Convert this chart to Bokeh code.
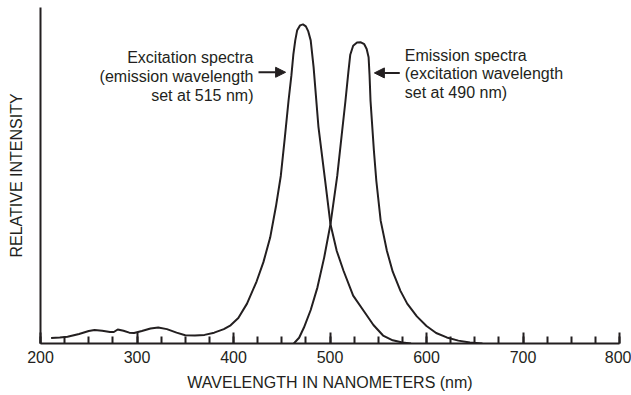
from bokeh.plotting import figure
from bokeh.models import Range1d, FixedTicker, Label, Arrow, NormalHead
from bokeh.embed import file_html
from bokeh.resources import INLINE

# ---- data ----
excitation_wl = [211, 220, 228, 240, 250, 256, 264, 272, 276, 280, 286, 292, 297, 305, 314,
                 322, 331, 341, 350, 360, 370, 380, 390, 397, 405, 414, 424, 431, 438, 444,
                 449, 453, 457, 460, 462, 464, 466, 469, 472, 475, 477.5, 480, 483, 488, 495,
                 500.5, 507, 514, 524, 535, 545, 555, 565, 575, 584]
excitation_int = [1.7, 1.9, 2.1, 3.0, 3.9, 4.2, 4.0, 3.6, 3.6, 4.4, 4.0, 3.4, 3.3, 3.9, 4.7,
                  5.0, 4.5, 3.4, 2.6, 2.5, 2.7, 3.4, 4.5, 5.7, 8.0, 12.5, 19.5, 25.5, 33.2, 43,
                  52.5, 64, 76, 84, 90.5, 95, 98.2, 99.7, 100, 99.4, 97.8, 95, 86.6, 68, 51,
                  37.4, 29, 22.8, 15, 10.2, 5.8, 2.5, 1.0, 0.3, 0]

emission_wl = [462.5, 468, 473, 480, 487, 494, 500.5, 507.5, 512, 516, 519, 521, 524, 528,
               532, 535.5, 538, 540, 541, 542, 545.5, 548, 552.5, 559, 565, 573, 580, 590,
               600, 610, 621, 633, 645, 658]
emission_int = [0, 1.8, 5.0, 10.5, 17.6, 27, 37.4, 52.5, 65, 76, 85, 90.5, 93.3, 94.3,
                94.4, 93.8, 92.3, 89.7, 84, 76, 60.4, 51, 38.5, 29, 22.5, 16.5, 12.5, 8.5,
                5.5, 3.3, 1.9, 0.9, 0.3, 0]

major_ticks = [200, 300, 400, 500, 600, 700, 800]
minor_ticks = list(range(200, 801, 25))

excitation_lines = ["Excitation spectra", "(emission wavelength", "set at 515 nm)"]
emission_lines = ["Emission spectra", "(excitation wavelength", "set at 490 nm)"]

INK = "#231f20"
FONT = "Liberation Sans"

p = figure(width=631, height=395, output_backend="svg", toolbar_location=None,
           x_range=Range1d(200, 800), y_range=Range1d(0, 105.3),
           min_border_left=40, min_border_right=12, min_border_top=7, min_border_bottom=52)
p.outline_line_color = None
p.grid.visible = False
p.background_fill_color = "white"
p.border_fill_color = "white"

p.line(excitation_wl, excitation_int, line_color=INK, line_width=2)
p.line(emission_wl, emission_int, line_color=INK, line_width=2)

# x axis
xa = p.xaxis[0]
xa.ticker = FixedTicker(ticks=major_ticks, minor_ticks=minor_ticks)
xa.axis_line_color = INK
xa.axis_line_width = 2
xa.major_tick_in = 11
xa.major_tick_out = 0
xa.minor_tick_in = 7
xa.minor_tick_out = 0
xa.major_tick_line_color = INK
xa.major_tick_line_width = 2
xa.minor_tick_line_color = INK
xa.minor_tick_line_width = 2
xa.major_label_text_font = FONT
xa.major_label_text_font_size = "16px"
xa.major_label_text_color = INK
xa.major_label_standoff = 7
xa.axis_label = "WAVELENGTH IN NANOMETERS (nm)"
xa.axis_label_text_font = FONT
xa.axis_label_text_font_size = "16px"
xa.axis_label_text_font_style = "normal"
xa.axis_label_text_color = INK
xa.axis_label_standoff = 8

# y axis
ya = p.yaxis[0]
ya.ticker = FixedTicker(ticks=[])
ya.axis_line_color = INK
ya.axis_line_width = 2
ya.major_tick_in = 0
ya.major_tick_out = 0
ya.minor_tick_in = 0
ya.minor_tick_out = 0
ya.major_label_standoff = 0
ya.axis_label = "RELATIVE INTENSITY"
ya.axis_label_text_font = FONT
ya.axis_label_text_font_size = "16px"
ya.axis_label_text_font_style = "normal"
ya.axis_label_text_color = INK
ya.axis_label_standoff = 16

# annotations
for i, t in enumerate(excitation_lines):
    p.add_layout(Label(x=420.7, y=89.5 - 5.85 * i, text=t, text_align="right",
                       text_baseline="alphabetic", text_font=FONT,
                       text_font_size="16px", text_color=INK))
for i, t in enumerate(emission_lines):
    p.add_layout(Label(x=577.5, y=90.3 - 5.8 * i, text=t, text_align="left",
                       text_baseline="alphabetic", text_font=FONT,
                       text_font_size="16px", text_color=INK))

p.add_layout(Arrow(x_start=425.9, y_start=85.0, x_end=454.0, y_end=85.0,
                   line_color=INK, line_width=2,
                   end=NormalHead(size=10, fill_color=INK, line_color=INK, line_width=1)))
p.add_layout(Arrow(x_start=572.3, y_start=84.8, x_end=546.0, y_end=84.8,
                   line_color=INK, line_width=2,
                   end=NormalHead(size=10, fill_color=INK, line_color=INK, line_width=1)))

open("out.html", "w").write(file_html(p, INLINE))
